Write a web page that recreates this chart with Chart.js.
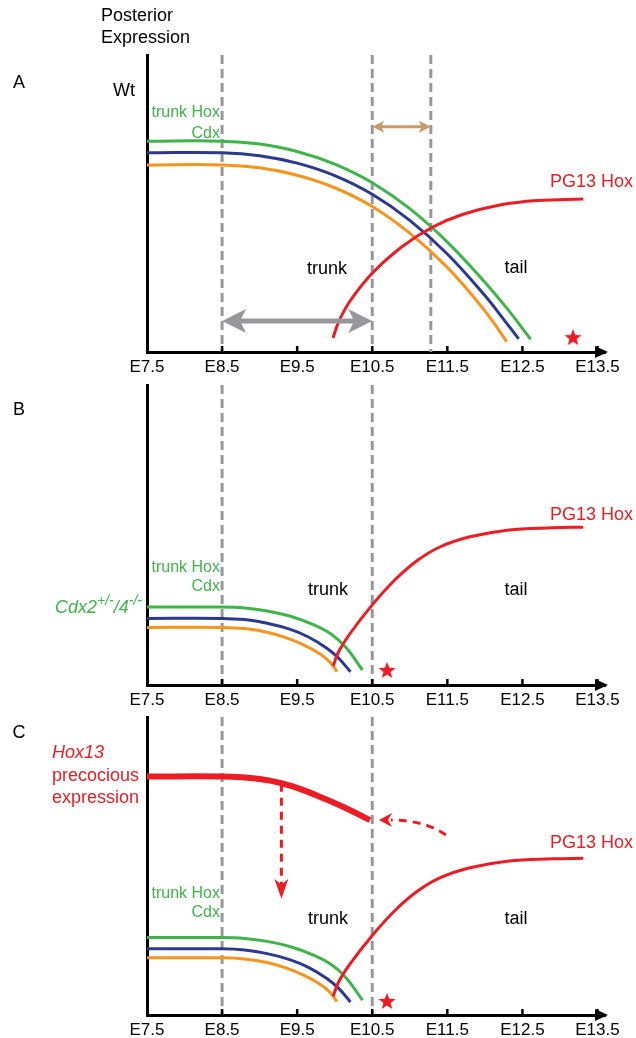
<!DOCTYPE html>
<html>
<head>
<meta charset="utf-8">
<script src="https://cdn.jsdelivr.net/npm/chart.js@4.4.0/dist/chart.umd.min.js"></script>
<style>
  html, body { margin: 0; padding: 0; background: #fff; }
  #wrap { position: relative; width: 636px; height: 1038px; overflow: hidden; }
  canvas { position: absolute; left: 0; }
</style>
</head>
<body>
<div id="wrap">
  <canvas id="chartA" style="top:0px"></canvas>
  <canvas id="chartB" style="top:345px"></canvas>
  <canvas id="chartC" style="top:690px"></canvas>
</div>
<script>
// x axis: embryonic days
const xTicks = [7.5, 8.5, 9.5, 10.5, 11.5, 12.5, 13.5];
const xTickLabels = ['E7.5', 'E8.5', 'E9.5', 'E10.5', 'E11.5', 'E12.5', 'E13.5'];

// A - wild type curves [day, expression]
const wtGreen = [[7.5,0.71],[8.5,0.71],[9.0,0.70],[9.5,0.675],[10.0,0.6325],[10.5,0.57],[11.0,0.4825],[11.5,0.37],[12.0,0.235],[12.3,0.145],[12.61,0.043]];
const wtBlue = [[7.5,0.671],[8.5,0.671],[9.0,0.661],[9.5,0.636],[10.0,0.594],[10.5,0.531],[11.0,0.443],[11.5,0.33],[12.0,0.19],[12.25,0.11],[12.45,0.044]];
const wtOrange = [[7.5,0.63],[8.5,0.63],[9.0,0.62],[9.5,0.595],[10.0,0.553],[10.5,0.49],[11.0,0.40],[11.5,0.285],[11.9,0.17],[12.1,0.105],[12.29,0.035]];
const wtRed = [[9.977,0.047],[10.05,0.1],[10.2,0.17],[10.5,0.265],[10.9,0.355],[11.3,0.42],[11.7,0.463],[12.2,0.495],[12.7,0.51],[13.31,0.515]];

// B and C - Cdx mutant curves
const mutGreen = [[7.5,0.26],[8.5,0.26],[8.8,0.257],[9.1,0.247],[9.4,0.23],[9.7,0.203],[9.95,0.17],[10.15,0.125],[10.37,0.05]];
const mutBlue = [[7.5,0.222],[8.5,0.222],[8.8,0.218],[9.1,0.206],[9.4,0.186],[9.65,0.16],[9.9,0.122],[10.05,0.09],[10.21,0.044]];
const mutOrange = [[7.5,0.192],[8.5,0.192],[8.8,0.188],[9.1,0.176],[9.35,0.158],[9.6,0.132],[9.8,0.104],[9.93,0.078],[10.03,0.045]];
const mutRed = [[9.98,0.063],[10.05,0.11],[10.2,0.17],[10.5,0.267],[10.8,0.35],[11.1,0.415],[11.4,0.46],[11.8,0.494],[12.3,0.516],[12.9,0.524],[13.31,0.526]];

// C - precocious Hox13
const hox13Early = [[7.5,0.8],[8.5,0.8],[9.0,0.792],[9.3,0.777],[9.6,0.753],[9.9,0.722],[10.2,0.688],[10.47,0.654]];

// dashed stage markers and star positions
const stagesA = [8.5, 10.5, 11.28];
const stagesBC = [8.5, 10.5];
const starA = [[13.174, 0.05]];
const starB = [[10.697, 0.05]];
const starC = [[10.697, 0.047]];

const GREEN = '#3fb44a', BLUE = '#2b3990', ORANGE = '#f7941d', RED = '#ed1c24';
const GREY = '#98989a', TAN = '#c69c6d';
const FONT = "'Liberation Sans', Arial, sans-serif";

function pts(arr) { return arr.map(p => ({ x: p[0], y: p[1] })); }

function starImage(size, color) {
  const c = document.createElement('canvas');
  c.width = c.height = size;
  const g = c.getContext('2d');
  g.fillStyle = color;
  g.beginPath();
  for (let i = 0; i < 10; i++) {
    const r = i % 2 ? size * 0.21 : size * 0.5;
    const a = -Math.PI / 2 + i * Math.PI / 5;
    g.lineTo(size / 2 + r * Math.cos(a), size / 2 + 0.8 + r * Math.sin(a));
  }
  g.closePath();
  g.fill();
  return c;
}
const star = starImage(18, RED);

function line(data, color, width) {
  return {
    data: pts(data), borderColor: color, borderWidth: width || 3,
    pointRadius: 0, fill: false, tension: 0.4, clip: false
  };
}
function starSet(data) {
  return { type: 'scatter', data: pts(data), pointStyle: star, pointRadius: 9, showLine: false };
}

// arrow head: tip at (x,y), pointing along angle
function head(ctx, x, y, ang, len, half, color, notch) {
  ctx.save();
  ctx.translate(x, y);
  ctx.rotate(ang);
  ctx.fillStyle = color;
  ctx.beginPath();
  ctx.moveTo(0, 0);
  ctx.lineTo(-len, -half);
  ctx.lineTo(-len * (1 - (notch || 0)), 0);
  ctx.lineTo(-len, half);
  ctx.closePath();
  ctx.fill();
  ctx.restore();
}

function drawText(ctx, xs, ys, it) {
  const size = it.size || 18;
  const x = xs.getPixelForValue(it.x), y = ys.getPixelForValue(it.y);
  ctx.fillStyle = it.color || '#000';
  ctx.textBaseline = 'middle';
  if (it.parts) {
    // rich text with superscripts, right aligned
    let w = 0;
    it.parts.forEach(p => {
      ctx.font = 'italic ' + (p.sup ? 14 : size) + 'px ' + FONT;
      p.w = ctx.measureText(p.t).width;
      w += p.w;
    });
    let cx = x - w;
    ctx.textAlign = 'left';
    it.parts.forEach(p => {
      ctx.font = 'italic ' + (p.sup ? 14 : size) + 'px ' + FONT;
      ctx.fillText(p.t, cx, p.sup ? y - 7 : y);
      cx += p.w;
    });
    return;
  }
  ctx.font = (it.italic ? 'italic ' : '') + size + 'px ' + FONT;
  ctx.textAlign = it.align || 'center';
  ctx.fillText(it.t, x, y);
}

function overlay(panel) {
  return {
    id: 'overlay',
    beforeDatasetsDraw(chart) {
      const { ctx, chartArea, scales: { x } } = chart;
      ctx.save();
      ctx.strokeStyle = GREY;
      ctx.lineWidth = 3;
      ctx.setLineDash([9, 5]);
      panel.stages.forEach(v => {
        const px = x.getPixelForValue(v);
        ctx.beginPath();
        ctx.moveTo(px, chartArea.top);
        ctx.lineTo(px, chartArea.bottom);
        ctx.stroke();
      });
      ctx.restore();
    },
    afterDatasetsDraw(chart) {
      const { ctx, chartArea, scales: { x, y } } = chart;
      ctx.save();
      // x axis arrow head and tick marks
      head(ctx, chartArea.right + 3, chartArea.bottom, 0, 13, 6, '#000', 0);
      ctx.strokeStyle = '#000';
      ctx.lineWidth = 2.5;
      xTicks.slice(1).forEach(v => {
        const px = x.getPixelForValue(v);
        ctx.beginPath();
        ctx.moveTo(px, chartArea.bottom);
        ctx.lineTo(px, chartArea.bottom - 6);
        ctx.stroke();
      });
      // straight double arrows
      (panel.dbl || []).forEach(a => {
        const x1 = x.getPixelForValue(a.x1), x2 = x.getPixelForValue(a.x2), py = y.getPixelForValue(a.y);
        ctx.strokeStyle = a.color;
        ctx.lineWidth = a.w;
        ctx.beginPath();
        ctx.moveTo(x1 + a.len * 0.6, py);
        ctx.lineTo(x2 - a.len * 0.6, py);
        ctx.stroke();
        head(ctx, x1, py, Math.PI, a.len, a.half, a.color, 0.25);
        head(ctx, x2, py, 0, a.len, a.half, a.color, 0.25);
      });
      // dashed red arrows (panel C)
      (panel.dashed || []).forEach(a => {
        const p = a.pts.map(q => [x.getPixelForValue(q[0]), y.getPixelForValue(q[1])]);
        const tip = p[p.length - 1], prev = p[p.length - 2];
        const ang = Math.atan2(tip[1] - prev[1], tip[0] - prev[0]);
        const ex = tip[0] - Math.cos(ang) * 12, ey = tip[1] - Math.sin(ang) * 12;
        ctx.strokeStyle = RED;
        ctx.lineWidth = 3;
        ctx.setLineDash([8, 6]);
        ctx.beginPath();
        ctx.moveTo(p[0][0], p[0][1]);
        if (p.length === 3) ctx.quadraticCurveTo(p[1][0], p[1][1], ex, ey);
        else ctx.lineTo(ex, ey);
        ctx.stroke();
        ctx.setLineDash([]);
        head(ctx, tip[0], tip[1], ang, a.len, a.half, RED, 0.3);
      });
      panel.texts.forEach(t => drawText(ctx, x, y, t));
      ctx.restore();
    }
  };
}

function makePanel(id, top, padTop, plotH, axisH, panel) {
  const cv = document.getElementById(id);
  const h = padTop + plotH + axisH;
  cv.width = 636; cv.height = h;
  cv.style.width = '636px'; cv.style.height = h + 'px';
  return new Chart(cv.getContext('2d'), {
    type: 'line',
    data: { datasets: panel.datasets },
    options: {
      responsive: false,
      animation: false,
      events: [],
      layout: { padding: { top: padTop, left: 147, right: 31, bottom: 0 } },
      plugins: { legend: { display: false }, tooltip: { enabled: false } },
      scales: {
        x: {
          type: 'linear', min: 7.5, max: 13.6,
          afterBuildTicks: s => { s.ticks = xTicks.map(v => ({ value: v })); },
          afterFit: s => { s.height = axisH; },
          ticks: {
            autoSkip: false, maxRotation: 0, padding: 5, color: '#000',
            font: { family: FONT, size: 17 },
            callback: v => xTickLabels[xTicks.indexOf(v)]
          },
          grid: { display: false, drawTicks: false },
          border: { display: true, color: '#000', width: 3 }
        },
        y: {
          min: 0, max: 1,
          afterFit: s => { s.width = 0; },
          ticks: { display: false },
          grid: { display: false, drawTicks: false },
          border: { display: true, color: '#000', width: 3 }
        }
      }
    },
    plugins: [overlay(panel)]
  });
}

const legendTexts = (yHox, yCdx) => [
  { t: 'trunk Hox', x: 8.472, y: yHox, align: 'right', color: GREEN, size: 16 },
  { t: 'Cdx', x: 8.472, y: yCdx, align: 'right', color: GREEN, size: 16 }
];

makePanel('chartA', 0, 55, 297, 28, {
  stages: stagesA,
  datasets: [line(wtRed, RED), line(wtGreen, GREEN), line(wtBlue, BLUE), line(wtOrange, ORANGE), starSet(starA)],
  dbl: [
    { x1: 8.5, x2: 10.5, y: 0.104, color: GREY, w: 5, len: 24, half: 12 },
    { x1: 10.5, x2: 11.28, y: 0.758, color: TAN, w: 3, len: 12, half: 6 }
  ],
  texts: [
    { t: 'Posterior', x: 6.887, y: 1.131, align: 'left' },
    { t: 'Expression', x: 6.887, y: 1.057, align: 'left' },
    { t: 'A', x: 5.795, y: 0.906 },
    { t: 'Wt', x: 7.194, y: 0.879 },
    ...legendTexts(0.805, 0.737),
    { t: 'trunk', x: 9.897, y: 0.279 },
    { t: 'tail', x: 12.415, y: 0.283 },
    { t: 'PG13 Hox', x: 13.973, y: 0.572, align: 'right', color: RED }
  ]
});

makePanel('chartB', 345, 40, 300, 28, {
  stages: stagesBC,
  datasets: [line(mutRed, RED), line(mutGreen, GREEN), line(mutBlue, BLUE), line(mutOrange, ORANGE), starSet(starB)],
  texts: [
    { t: 'B', x: 5.795, y: 0.917 },
    ...legendTexts(0.393, 0.327),
    { x: 7.433, y: 0.257, color: GREEN, parts: [{ t: 'Cdx2' }, { t: '+/-', sup: true }, { t: '/4' }, { t: '-/-', sup: true }] },
    { t: 'trunk', x: 9.91, y: 0.317 },
    { t: 'tail', x: 12.415, y: 0.317 },
    { t: 'PG13 Hox', x: 13.973, y: 0.567, align: 'right', color: RED }
  ]
});

makePanel('chartC', 690, 27, 298, 23, {
  stages: stagesBC,
  datasets: [line(hox13Early, RED, 6), line(mutRed, RED), line(mutGreen, GREEN), line(mutBlue, BLUE), line(mutOrange, ORANGE), starSet(starC)],
  dashed: [
    { pts: [[9.29, 0.776], [9.29, 0.39]], len: 20, half: 7 },
    { pts: [[11.48, 0.604], [11.2, 0.654], [10.59, 0.654]], len: 13, half: 7 }
  ],
  texts: [
    { t: 'C', x: 5.795, y: 0.946 },
    { t: 'Hox13', x: 6.235, y: 0.879, align: 'left', color: RED, italic: true },
    { t: 'precocious', x: 6.235, y: 0.802, align: 'left', color: RED },
    { t: 'expression', x: 6.235, y: 0.728, align: 'left', color: RED },
    ...legendTexts(0.409, 0.342),
    { t: 'trunk', x: 9.91, y: 0.322 },
    { t: 'tail', x: 12.415, y: 0.322 },
    { t: 'PG13 Hox', x: 13.973, y: 0.577, align: 'right', color: RED }
  ]
});
</script>
</body>
</html>
